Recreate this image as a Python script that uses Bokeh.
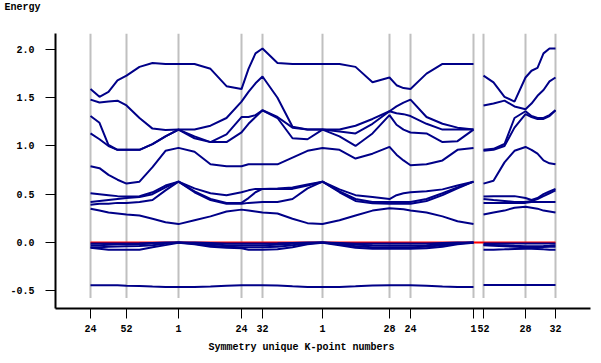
from bokeh.plotting import figure
from bokeh.models import Range1d, FixedTicker, PrintfTickFormatter, Title
from bokeh.embed import file_html
from bokeh.resources import INLINE

# ---- data -------------------------------------------------------------
# k-path distances (left path and right path)
k_left = [0, 9, 18, 27, 36, 49, 62, 75, 88, 104, 120, 136, 151, 158, 165, 172,
          187, 202, 217, 232, 249, 265, 282, 299, 306, 313, 320, 336, 352, 367, 383]
k_right = [393, 403, 414, 424, 435, 441, 447, 453, 459, 465]

# high-symmetry points
sym_pos = [0, 36, 88, 151, 172, 232, 299, 320, 383, 393, 435, 465]
sym_labels = ["24", "52", "1", "24", "32", "1", "28", "24", "1", "52", "28", "32"]

# bands on left path (eV)
band1_l = [1.59, 1.51, 1.56, 1.68, 1.73, 1.82, 1.86, 1.85, 1.85, 1.85, 1.80, 1.62, 1.59, 1.80, 1.96, 2.01,
           1.86, 1.85, 1.85, 1.85, 1.85, 1.82, 1.66, 1.71, 1.63, 1.60, 1.59, 1.75, 1.85, 1.85, 1.85]
band2_l = [1.48, 1.45, 1.46, 1.47, 1.42, 1.29, 1.18, 1.165, 1.17, 1.17, 1.21, 1.29, 1.46, 1.56, 1.65, 1.72,
           1.50, 1.20, 1.17, 1.17, 1.17, 1.21, 1.28, 1.36, 1.41, 1.45, 1.48, 1.30, 1.23, 1.19, 1.17]
band3_l = [1.31, 1.24, 1.01, 0.96, 0.96, 0.96, 1.02, 1.10, 1.17, 1.10, 1.04, 1.12, 1.30, 1.30, 1.32, 1.37,
           1.30, 1.19, 1.17, 1.17, 1.15, 1.13, 1.23, 1.36, 1.34, 1.33, 1.31, 1.23, 1.17, 1.17, 1.17]
band4_l = [1.13, 1.07, 1.00, 0.96, 0.96, 0.96, 1.02, 1.10, 1.17, 1.08, 1.04, 1.04, 1.14, 1.23, 1.30, 1.37,
           1.29, 1.08, 1.07, 1.17, 1.10, 1.00, 1.13, 1.32, 1.22, 1.17, 1.14, 1.13, 1.04, 1.05, 1.17]
band5_l = [0.79, 0.77, 0.70, 0.65, 0.61, 0.63, 0.78, 0.95, 0.98, 0.94, 0.81, 0.79, 0.79, 0.81, 0.81, 0.81,
           0.81, 0.88, 0.95, 0.98, 0.96, 0.87, 0.92, 0.99, 0.91, 0.85, 0.80, 0.81, 0.85, 0.96, 0.98]
band6_l = [0.51, 0.50, 0.49, 0.48, 0.475, 0.48, 0.52, 0.59, 0.63, 0.56, 0.51, 0.49, 0.52, 0.54, 0.555, 0.555,
           0.56, 0.57, 0.60, 0.63, 0.55, 0.49, 0.47, 0.45, 0.49, 0.51, 0.52, 0.53, 0.55, 0.59, 0.63]
band7_l = [0.42, 0.43, 0.44, 0.45, 0.46, 0.47, 0.50, 0.57, 0.63, 0.53, 0.45, 0.41, 0.41, 0.46, 0.52, 0.555,
           0.555, 0.555, 0.59, 0.63, 0.53, 0.45, 0.42, 0.42, 0.42, 0.42, 0.42, 0.45, 0.51, 0.57, 0.63]
band8_l = [0.39, 0.40, 0.40, 0.41, 0.41, 0.42, 0.44, 0.54, 0.63, 0.52, 0.44, 0.40, 0.40, 0.41, 0.415, 0.42,
           0.42, 0.45, 0.56, 0.63, 0.52, 0.43, 0.405, 0.40, 0.40, 0.40, 0.40, 0.43, 0.49, 0.56, 0.63]
band9_l = [0.35, 0.33, 0.31, 0.30, 0.29, 0.28, 0.245, 0.21, 0.19, 0.23, 0.27, 0.32, 0.34, 0.33, 0.32, 0.31,
           0.30, 0.245, 0.20, 0.19, 0.23, 0.28, 0.33, 0.355, 0.35, 0.345, 0.33, 0.31, 0.27, 0.22, 0.19]
band10_l = [-0.01, -0.01, -0.01, -0.01, -0.01, -0.008, -0.005, -0.002, 0.0, -0.002, -0.006, -0.01, -0.01, -0.01,
            -0.01, -0.01, -0.008, -0.005, -0.002, 0.0, -0.005, -0.01, -0.012, -0.012, -0.012, -0.012, -0.012,
            -0.01, -0.006, -0.002, 0.0]
band11_l = [-0.03, -0.03, -0.025, -0.02, -0.02, -0.018, -0.012, -0.006, 0.0, -0.008, -0.02, -0.028, -0.03, -0.03,
            -0.03, -0.03, -0.025, -0.015, -0.006, 0.0, -0.01, -0.025, -0.03, -0.032, -0.032, -0.032, -0.032,
            -0.028, -0.018, -0.008, 0.0]
band12_l = [-0.05, -0.05, -0.045, -0.042, -0.04, -0.038, -0.03, -0.015, -0.002, -0.015, -0.035, -0.045, -0.05,
            -0.05, -0.05, -0.05, -0.045, -0.03, -0.012, -0.002, -0.02, -0.04, -0.05, -0.05, -0.05, -0.05, -0.05,
            -0.045, -0.03, -0.012, -0.002]
band13_l = [-0.055, -0.065, -0.075, -0.076, -0.076, -0.075, -0.05, -0.028, -0.004, -0.02, -0.045, -0.055, -0.06,
            -0.075, -0.076, -0.076, -0.07, -0.05, -0.02, -0.004, -0.03, -0.055, -0.065, -0.065, -0.065, -0.065,
            -0.065, -0.06, -0.045, -0.02, -0.004]
band14_l = [-0.444, -0.444, -0.444, -0.445, -0.448, -0.452, -0.458, -0.461, -0.462, -0.461, -0.457, -0.449,
            -0.444, -0.443, -0.443, -0.443, -0.446, -0.455, -0.461, -0.462, -0.461, -0.455, -0.447, -0.443,
            -0.443, -0.443, -0.443, -0.449, -0.456, -0.461, -0.462]

# bands on right path (eV)
band1_r = [1.73, 1.66, 1.51, 1.46, 1.71, 1.78, 1.81, 1.96, 2.01, 2.01]
band2_r = [1.42, 1.44, 1.47, 1.41, 1.38, 1.44, 1.52, 1.58, 1.67, 1.71]
band3_r = [0.96, 0.97, 1.02, 1.29, 1.36, 1.31, 1.29, 1.29, 1.32, 1.37]
band4_r = [0.95, 0.96, 1.00, 1.19, 1.33, 1.30, 1.28, 1.28, 1.31, 1.37]
band5_r = [0.61, 0.64, 0.83, 0.95, 0.99, 0.96, 0.92, 0.85, 0.82, 0.81]
band6_r = [0.475, 0.48, 0.48, 0.48, 0.46, 0.44, 0.46, 0.50, 0.53, 0.555]
band7_r = [0.45, 0.44, 0.43, 0.42, 0.42, 0.43, 0.45, 0.48, 0.51, 0.54]
band8_r = [0.41, 0.41, 0.41, 0.41, 0.41, 0.42, 0.42, 0.42, 0.42, 0.42]
band9_r = [0.29, 0.31, 0.33, 0.36, 0.37, 0.36, 0.35, 0.33, 0.32, 0.31]
band10_r = [-0.012, -0.012, -0.012, -0.012, -0.012, -0.012, -0.012, -0.012, -0.012, -0.012]
band11_r = [-0.025, -0.027, -0.03, -0.035, -0.04, -0.04, -0.04, -0.038, -0.035, -0.03]
band12_r = [-0.03, -0.035, -0.04, -0.045, -0.05, -0.05, -0.05, -0.048, -0.045, -0.045]
band13_r = [-0.075, -0.075, -0.072, -0.068, -0.066, -0.066, -0.068, -0.072, -0.075, -0.075]
band14_r = [-0.442, -0.442, -0.442, -0.442, -0.442, -0.442, -0.442, -0.442, -0.442, -0.442]

bands_left = [band1_l, band2_l, band3_l, band4_l, band5_l, band6_l, band7_l,
              band8_l, band9_l, band10_l, band11_l, band12_l, band13_l, band14_l]
bands_right = [band1_r, band2_r, band3_r, band4_r, band5_r, band6_r, band7_r,
               band8_r, band9_r, band10_r, band11_r, band12_r, band13_r, band14_r]

fermi_level = 0.0
y_ticks = [-0.5, 0.0, 0.5, 1.0, 1.5, 2.0]

# ---- styling ----------------------------------------------------------
FONT = "Liberation Mono"
BAND = "#000088"
GRID = "#c0c0c0"

x_lo, x_hi = -35, 500
y_lo, y_hi = -0.685, 2.166
gray_bottom = -0.576

p = figure(width=601, height=363, output_backend="svg", toolbar_location=None,
           x_range=Range1d(x_lo, x_hi), y_range=Range1d(y_lo, y_hi),
           min_border_left=55, min_border_right=11, min_border_top=33, min_border_bottom=55)
p.outline_line_color = None
p.grid.visible = False
p.background_fill_color = "white"
p.border_fill_color = "white"

# vertical lines at high-symmetry points
p.segment(x0=sym_pos, y0=[gray_bottom] * len(sym_pos), x1=sym_pos, y1=[y_hi] * len(sym_pos),
          line_color=GRID, line_width=2)

# Fermi level
p.line(x=[k_left[0], k_right[-1]], y=[fermi_level, fermi_level], line_color="#ff0000", line_width=2)

# bands
for b in bands_left:
    p.line(x=k_left, y=b, line_color=BAND, line_width=2)
for b in bands_right:
    p.line(x=k_right, y=b, line_color=BAND, line_width=2)

# axes
for ax in (p.xaxis[0], p.yaxis[0]):
    ax.axis_line_width = 2
    ax.axis_line_color = "black"
    ax.major_tick_line_color = "black"
    ax.major_tick_line_width = 1
    ax.major_tick_in = 0
    ax.major_tick_out = 10
    ax.minor_tick_line_color = None
    ax.major_label_text_font = FONT
    ax.major_label_text_font_style = "bold"
    ax.major_label_text_font_size = "10px"
    ax.major_label_text_color = "black"

p.xaxis.ticker = FixedTicker(ticks=sym_pos)
p.xaxis.major_label_overrides = {float(k): lab for k, lab in zip(sym_pos, sym_labels)}
p.xaxis.major_label_standoff = 6

p.yaxis.ticker = FixedTicker(ticks=y_ticks)
p.yaxis.formatter = PrintfTickFormatter(format="%.1f")
p.yaxis.major_label_standoff = 11

# titles
p.add_layout(Title(text="Energy", align="left", offset=-51, standoff=2, vertical_align="top",
                   padding=dict(left=0, right=0, top=0, bottom=18),
                   text_font=FONT, text_font_style="bold",
                   text_font_size="10px", text_color="black"), "above")
p.add_layout(Title(text="Symmetry unique K-point numbers", align="left", offset=153, standoff=11,
                   text_font=FONT, text_font_style="bold", text_font_size="10px",
                   text_color="black"), "below")

open("out.html", "w").write(file_html(p, INLINE))
